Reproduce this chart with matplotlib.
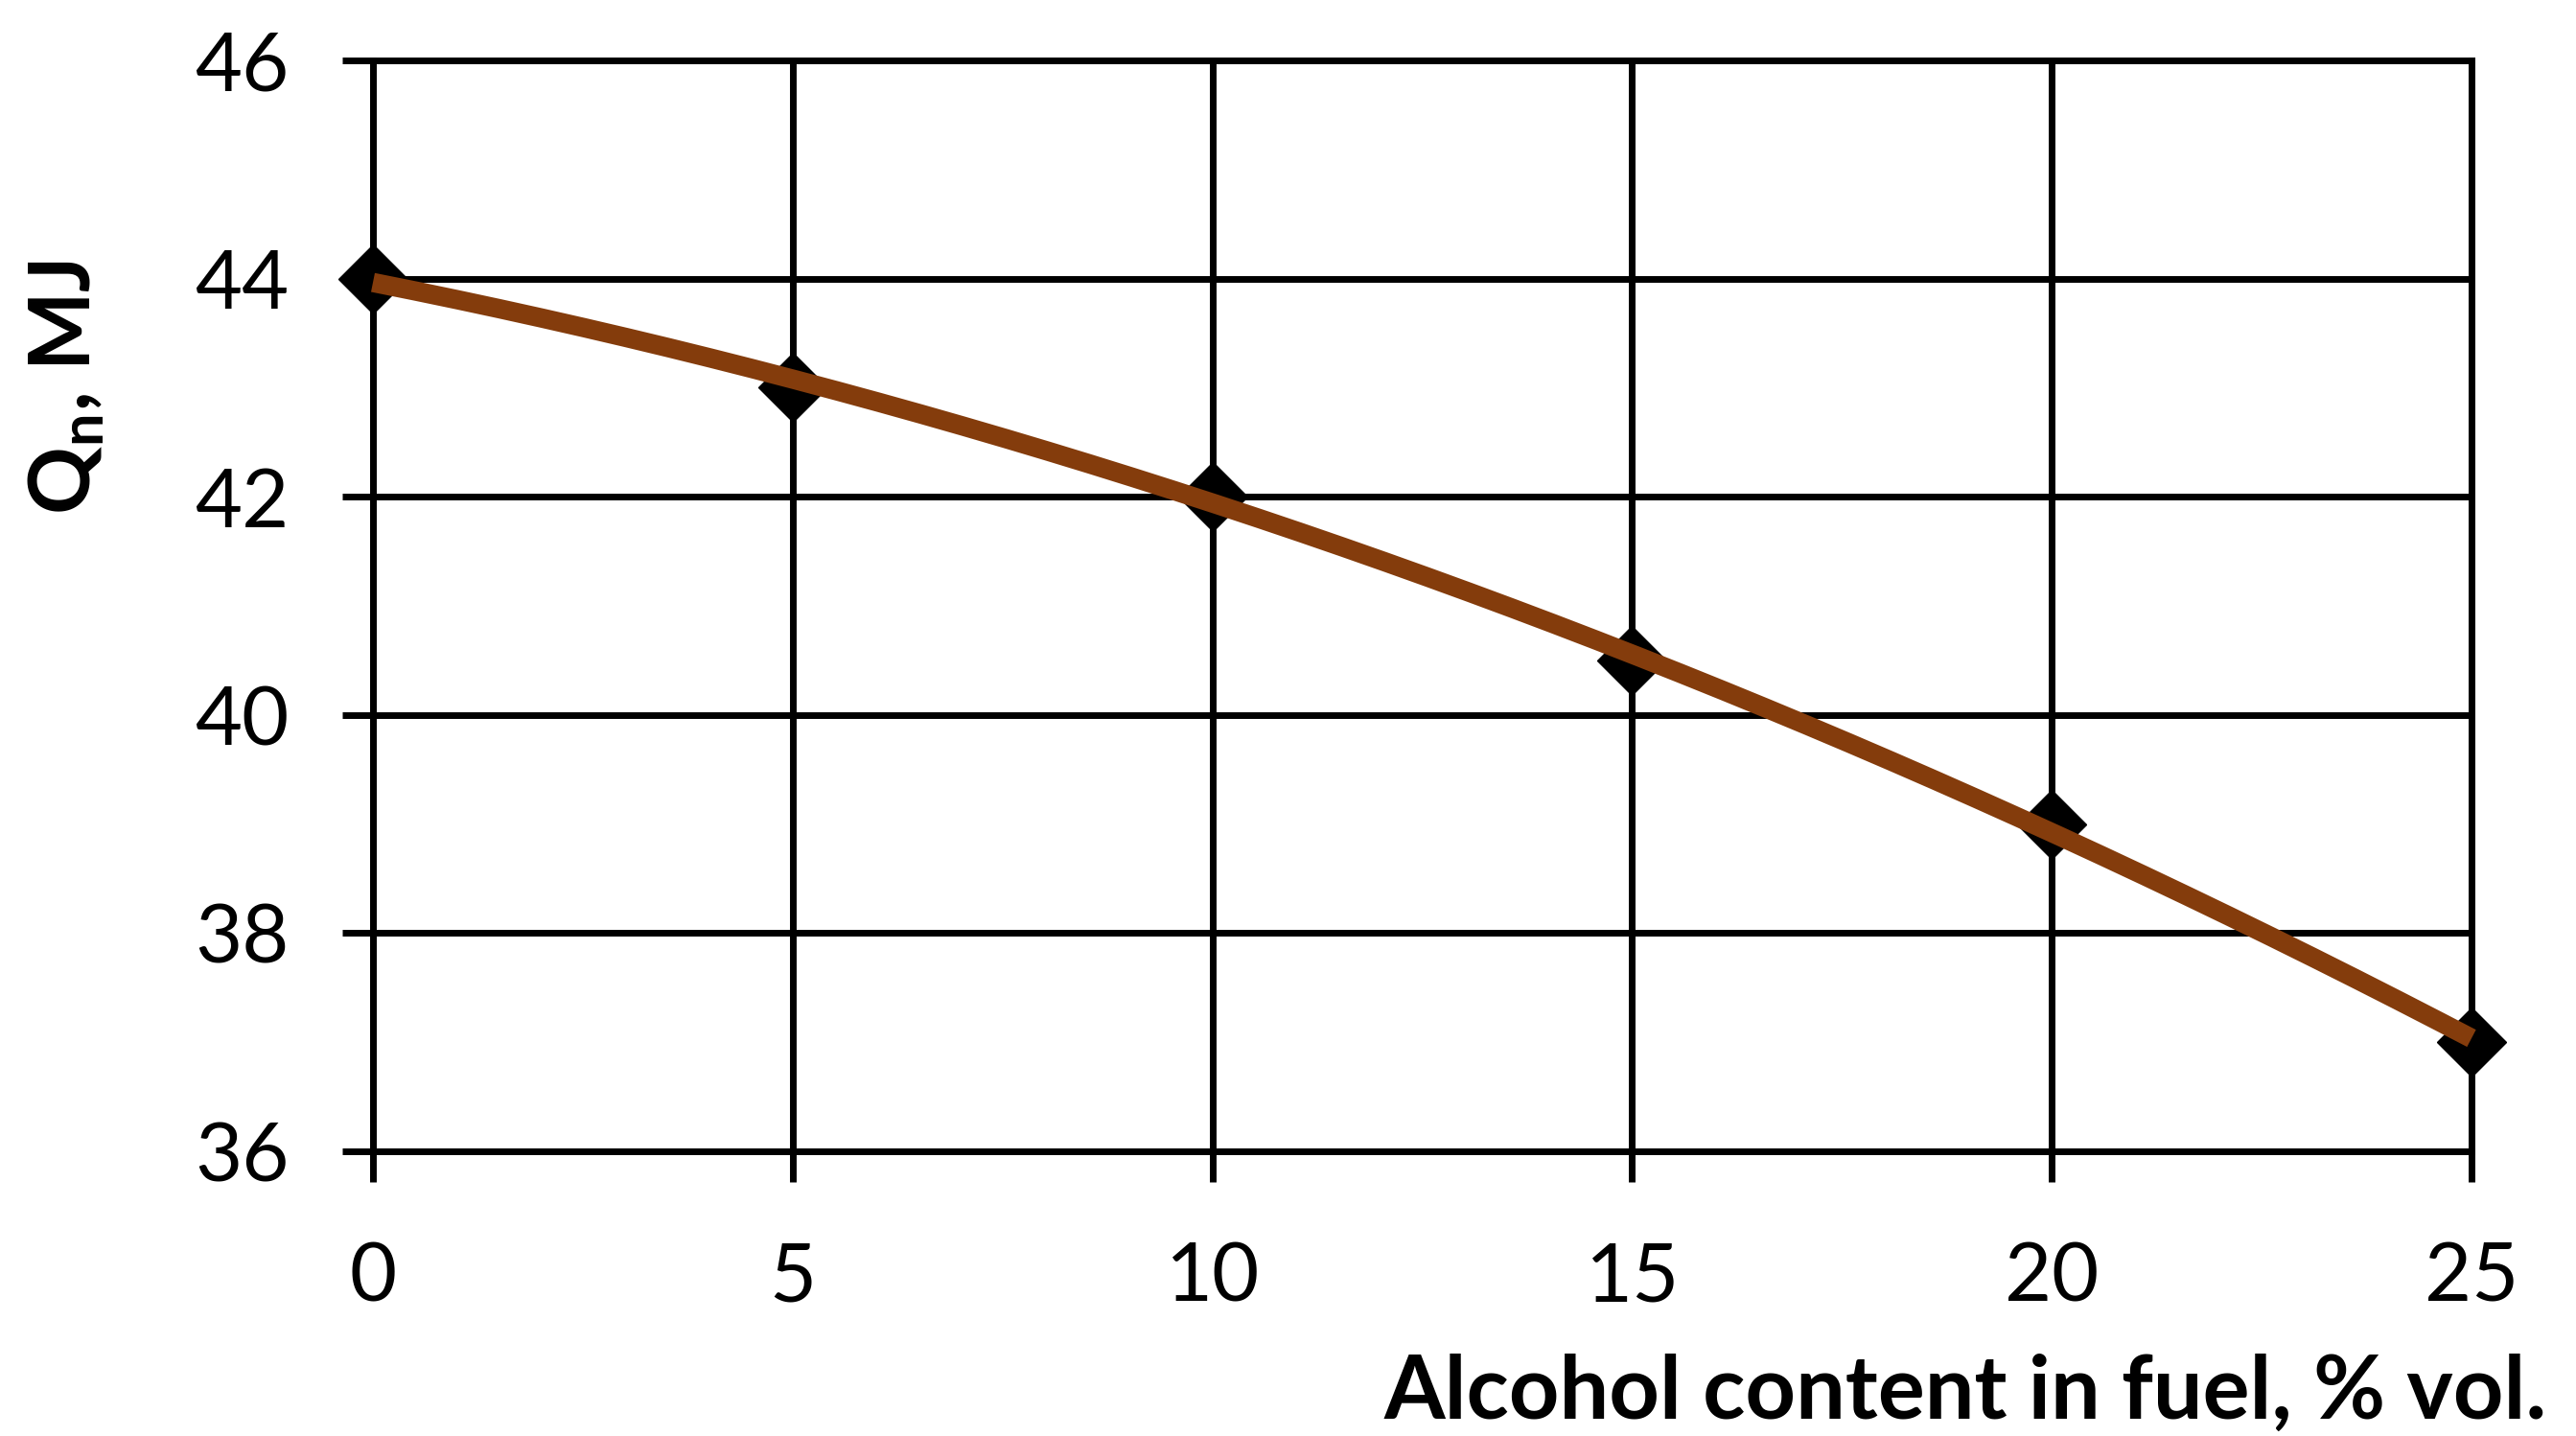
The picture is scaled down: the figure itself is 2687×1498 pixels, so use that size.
import numpy as np
import matplotlib
matplotlib.use("Agg")
import matplotlib.pyplot as plt

# data
alcohol_pct = [0, 5, 10, 15, 20, 25]
q_n_mj = [44.0, 43.0, 42.0, 40.5, 39.0, 37.0]

X_TICKS = [0, 5, 10, 15, 20, 25]
Y_TICKS = [36, 38, 40, 42, 44, 46]

BROWN = "#843C0C"

plt.rcParams["font.family"] = ["Lato", "DejaVu Sans"]
plt.rcParams["mathtext.fontset"] = "custom"
plt.rcParams["mathtext.bf"] = "Lato:bold"

W, H, DPI = 2687, 1498, 100
fig = plt.figure(figsize=(W / DPI, H / DPI), dpi=DPI)
ax = fig.add_axes([389 / W, 1 - 1201 / H, (2578 - 389) / W, (1201 - 63) / H])

# polynomial (2nd order) trendline, as in the spreadsheet
coef = np.polyfit(alcohol_pct, q_n_mj, 2)
xs = np.linspace(min(alcohol_pct), max(alcohol_pct), 200)

ax.plot(alcohol_pct, q_n_mj, linestyle="none", marker="D", ms=37,
        color="black", zorder=3, clip_on=False)
ax.plot(xs, np.polyval(coef, xs), color=BROWN, lw=14.5,
        solid_capstyle="butt", zorder=4, clip_on=False)

ax.set_xlim(0, 25)
ax.set_ylim(36, 46)
ax.set_xticks(X_TICKS)
ax.set_yticks(Y_TICKS)
ax.grid(True, color="black", lw=5)
ax.set_axisbelow(True)
for s in ax.spines.values():
    s.set_linewidth(5)
ax.tick_params(axis="both", length=23, width=5, color="black",
               labelsize=61, pad=40)
ax.tick_params(axis="x", pad=44)

ax.set_xlabel("Alcohol content in fuel, % vol.", fontsize=66,
              fontweight="bold", ha="right")
ax.set_ylabel(r"Q$_\mathbf{n}$, MJ", fontsize=63, fontweight="bold",
              va="center")
ax.yaxis.set_label_coords(-0.146, 0.70)
ax.xaxis.set_label_coords(1.036, -0.185)

fig.savefig("out.png", dpi=DPI)
